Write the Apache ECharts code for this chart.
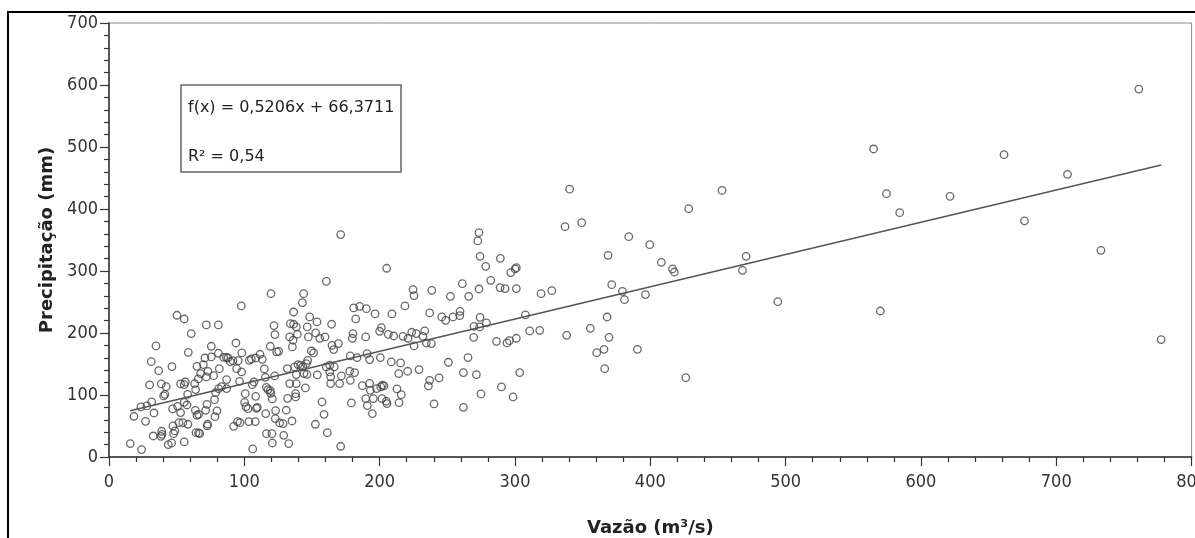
<!DOCTYPE html>
<html>
<head>
<meta charset="utf-8">
<script src="https://cdn.jsdelivr.net/npm/echarts@6/dist/echarts.min.js"></script>
<style>
html,body{margin:0;padding:0;background:#fff;}
#chart{width:1195px;height:538px;}
</style>
</head>
<body>
<div id="chart"></div>
<script>
// Vazão (m³/s) values of the observations
const vazao = [
50.2,55.6,34.7,31.2,36.7,46.5,58.6,60.8,65,69.7,70.9,71.9,75.6,75.6,80.8,80.8,81.5,84.7,86.7,87.9,89.6,91.6,93.8,95.5,98.2,97.8,94.3,103.7,105.2,108.4,111.6,113.3,114.8,119.7,119.2,121.9,122.6,123.9,125.4,
30,38.6,40.4,41.3,42.3,47,52.9,55.6,56.4,50.7,52.9,55.6,57.6,58.1,63.3,64,66,67.7,63.8,65,66.2,71.9,73.1,71.4,72.4,77.3,78,78.8,78.3,79.8,81,83.2,86.9,86.9,96.5,98,100.7,100.2,101.2,102.7,105.9,107.1,108.4,108.9,109.6,115.5,116.3,117.5,115.8,119.2,119.5,120.7,122.4,123.1,122.9,18.4,23.6,28,31.5,33.2,27,
15.7,24.1,32.7,38.9,39.1,38.4,43.8,46.3,47.3,47.7,48.7,51.7,54.6,58.3,55.6,64.3,66.2,67,72.9,72.6,92.1,95,96.8,103.4,108.1,106.2,116.3,120.4,120.7,126.1,
171.2,160.6,143.8,142.9,136.4,148.3,153.7,164.5,180.8,185.2,190.2,182.3,196.6,209.1,205.2,218.7,224.7,225.4,238.5,237,252.3,261.1,265.8,273.4,272.5,274.2,278.4,273.4,282.1,289.2,289,292.7,296.9,300.1,301,301,307.7,310.9,
259.4,259.2,245.9,248.8,254.2,274.2,269.7,273.9,278.9,269.5,286.3,294.1,295.9,301,303.5,290,298.6,274.9,271.5,261.9,265.3,261.9,250.8,243.9,237,236,240.2,229.1,
233.3,227.1,223.7,221,217.3,210.4,206.4,200,201.3,232,234.5,238.2,225.4,189.7,180.3,179.8,178.3,183.3,190.7,192.6,200.5,208.6,215.5,214.1,220.7,177.8,181.5,178.3,171.7,170.4,163.8,
187.2,192.6,193.1,197.8,200.8,202,203.2,189.7,190.9,194.6,195.3,201.7,204.9,205.4,212.8,216,214.3,179.1,157.4,158.9,152.5,161.3,171.2,
137.9,137.9,132,131,135.2,128.6,129.1,132.8,145.1,133.5,138.4,131.8,137.2,139.7,141.6,143.3,145.8,146.8,138.4,144.1,146.3,153.9,160.6,163.1,166.5,163.1,163.8,166,169.5,164.8,149.5,151.2,
134,136.4,138.4,139.2,136,133.5,135.5,146.5,152.7,155.7,159.6,147.3,
428.4,337,349.3,384.1,399.6,368.8,408.2,416.4,417.8,470.8,468.1,371.5,379.4,380.9,396.4,319.3,327.2,368.1,494.2,318.3,338.2,355.7,369.5,360.4,365.8,390.5,366.3,426.2,
761,565,661.4,708.3,574.5,621.5,584.3,676.5,733,570,777.5,340.4,453
];
// Precipitação (mm) values, same order
const precipitacao = [
228.6,222.6,179.1,153.8,139.3,145.8,168.9,199,146.3,149,159.7,213,178.6,161.4,213,167.3,142.5,160.8,160.8,159.7,153.8,155.4,183.9,155.4,167.8,243.6,142.5,156,158.1,159.7,165.7,157.6,142,263.5,178.6,211.9,197.4,169.4,170.5,
116.2,117.8,98.5,101.1,113.5,77.5,117.8,116.7,121,81.8,71.6,88.2,83.9,101.1,118.3,108.7,125.9,134.5,75.3,67.3,68.9,129.1,138.2,75.3,85,131.2,92.5,103.8,65.1,74.3,110.3,113.5,124.8,110.3,122.1,137.2,102.2,88.2,81.2,78,116.7,121,97.9,78.6,80.2,128.6,112.4,108.7,70,107.1,102.8,93.6,130.7,74.8,61.9,65.7,80.7,82.3,88.8,71,57.6,
21.6,11.9,33.9,41.5,36.6,33.4,20,22.7,50.1,37.7,42,55.4,55.4,52.8,24.3,39.3,38.8,37.7,52.8,50.1,49.5,57.1,55.4,57.1,57.1,13,37.7,37.7,22.6,54.9,
358.7,283.4,263.5,249,233.9,225.9,217.8,214.1,240.4,243.1,239.3,222.7,230.7,230.7,304.4,243.6,270,260.3,268.9,232.3,259.2,279.6,259.2,361.9,348.5,323.7,307.6,271,285,320.5,273.2,271.6,297.4,303.3,305.4,271.6,229.1,203.3,
235,228,225.9,220.5,225.9,225.3,210.8,209.8,216.2,193.1,186.6,184,187.7,191.5,136.1,113,96.9,101.7,132.9,136.1,160.3,80.2,152.8,127.5,123.7,114.6,85.6,141,
203.3,199,201.2,191.5,194.7,195.2,197.9,202.8,208.7,194.7,184,182.9,179.1,193.6,199,191.5,163,160.3,166.7,157.1,160.3,153.3,151.7,134.5,138.3,138.3,136.1,123.7,130.7,118.4,118.4,
115.1,118.9,107.6,110.3,113,115.7,114.6,94.2,82.9,70,94.2,94.2,89.9,86.1,109.8,100.6,87.7,87.2,88.8,68.9,52.8,39.3,17.3,
102.2,96.9,94.7,75.4,58.1,53.9,35,21.6,111.4,118.4,118.4,142.6,145.3,149,147.9,145.3,150.6,156,132.9,134.5,133.4,132.3,145.3,148,145.3,137.2,129.1,173.2,182.9,180.2,171,167.8,
215.1,214.1,209.8,198,188.3,193.6,177.5,209.8,200.1,191.5,193.6,193.6,
400.6,371.5,378,355.4,342.5,325.3,314,303.3,298.4,323.7,301.1,278,267.2,253.8,261.9,263.5,268.3,225.8,250.6,204.3,196.3,207.6,193.1,168.3,173.7,173.7,142.5,128,
593.5,496.8,487.6,456,424.7,420.5,394,381,333.4,235.5,189.4,432,430
];
// regression line end points, f(x) = 0,5206x + 66,3711
const trendX = [15.7, 777.5];
const trendY = [74.5, 471.1];
const xTicks = [0, 100, 200, 300, 400, 500, 600, 700, 800];
const yTicks = [0, 100, 200, 300, 400, 500, 600, 700];
const eqText = 'f(x) = 0,5206x + 66,3711';
const r2Text = 'R² = 0,54';

const points = vazao.map((v, i) => [v, precipitacao[i]]);
const trend = trendX.map((v, i) => [v, trendY[i]]);

const tickFont = "'Liberation Sans Narrow', 'DejaVu Sans Condensed', sans-serif";
const chart = echarts.init(document.getElementById('chart'), null, {renderer: 'canvas'});
chart.setOption({
  animation: false,
  backgroundColor: '#fff',
  grid: {left: 109, right: 3.4, top: 23, bottom: 81, show: true, borderColor: '#8a8a8a', borderWidth: 1,
         backgroundColor: 'transparent', containLabel: false, outerBoundsMode: 'none'},
  xAxis: {
    type: 'value', min: xTicks[0], max: xTicks[xTicks.length - 1], interval: 100,
    name: 'Vazão (m³/s)', nameLocation: 'middle', nameGap: 62,
    nameTextStyle: {fontFamily: 'DejaVu Sans', fontWeight: 'bold', fontSize: 18, color: '#222'},
    axisLine: {show: true, onZero: false, lineStyle: {color: '#333', width: 1.5}},
    axisTick: {show: true, length: 9, lineStyle: {color: '#333', width: 1.2}},
    minorTick: {show: true, splitNumber: 5, length: 5, lineStyle: {color: '#333', width: 1.2}},
    splitLine: {show: false},
    axisLabel: {fontFamily: tickFont, fontSize: 18, color: '#333', margin: 16, showMaxLabel: true, hideOverlap: false}
  },
  yAxis: {
    type: 'value', min: yTicks[0], max: yTicks[yTicks.length - 1], interval: 100,
    name: 'Precipitação (mm)', nameLocation: 'middle', nameGap: 53,
    nameTextStyle: {fontFamily: 'DejaVu Sans', fontWeight: 'bold', fontSize: 18, color: '#222'},
    axisLine: {show: true, onZero: false, lineStyle: {color: '#333', width: 1.5}},
    axisTick: {show: true, length: 9, lineStyle: {color: '#333', width: 1.2}},
    minorTick: {show: true, splitNumber: 5, length: 5, lineStyle: {color: '#333', width: 1.2}},
    splitLine: {show: false},
    axisLabel: {fontFamily: tickFont, fontSize: 18, color: '#333', margin: 11}
  },
  series: [
    {
      type: 'scatter', data: points, symbol: 'circle', symbolSize: 7.5,
      itemStyle: {color: 'rgba(255,255,255,0)', borderColor: '#444', borderWidth: 1.3},
      z: 3
    },
    {
      type: 'line', data: trend, symbol: 'none', silent: true,
      lineStyle: {color: '#555', width: 1.5}, z: 4
    }
  ],
  graphic: [
    {type: 'rect', z: 0, silent: true, shape: {x: 8, y: 12, width: 1400, height: 800},
     style: {fill: 'none', stroke: '#000', lineWidth: 2}},
    {type: 'rect', z: 10, shape: {x: 181, y: 85, width: 220, height: 87},
     style: {fill: '#fff', stroke: '#666', lineWidth: 1.5}},
    {type: 'text', z: 11, left: 188, top: 100,
     style: {text: eqText, fontFamily: 'DejaVu Sans', fontSize: 16, fill: '#222'}},
    {type: 'text', z: 11, left: 188, top: 149,
     style: {text: r2Text, fontFamily: 'DejaVu Sans', fontSize: 16, fill: '#222'}}
  ]
});
</script>
</body>
</html>
